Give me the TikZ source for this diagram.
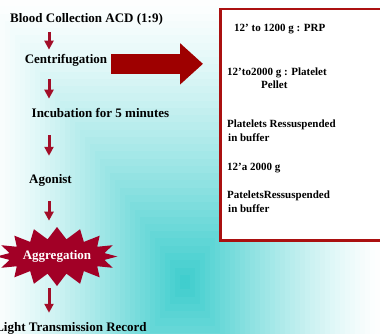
\documentclass[tikz,border=0pt]{standalone}
\usepackage{fontspec}
\setmainfont{Liberation Serif}
\usetikzlibrary{arrows.meta,shapes.symbols}
\definecolor{bgteal}{RGB}{58,204,204}
\definecolor{arrowred}{RGB}{162,14,40}
\definecolor{bigred}{RGB}{158,0,0}
\definecolor{burstred}{RGB}{162,0,38}
\definecolor{panelred}{RGB}{170,16,16}
\begin{document}
\begin{tikzpicture}[x=1pt,y=-1pt,
  step text/.style={inner sep=0pt,font=\fontsize{13}{15}\selectfont\bfseries,anchor=base},
  panel text/.style={inner sep=0pt,font=\fontsize{11}{13}\selectfont\bfseries,anchor=base west},
  down arrow/.style={draw=arrowred,line width=3pt,-{Triangle[width=9pt,length=9pt]}},
  big arrow/.style={draw=bigred,line width=20pt,-{Triangle[width=40pt,length=23pt]}},
  panel/.style={draw=panelred,line width=2.5pt,fill=white,inner sep=0pt,anchor=north west},
  agg burst/.style={starburst,starburst points=16,starburst point height=12pt,random starburst=0,
    fill=burstred,inner sep=0pt,minimum width=110pt,minimum height=59pt,text=white,
    font=\fontsize{13}{15}\selectfont\bfseries}]
\useasboundingbox (0,0) rectangle (380,334);
\clip (0,0) rectangle (380,334);
\fill[white] (0,0) rectangle (380,334);
\foreach \k in {1,...,40}{
  \pgfmathsetmacro\s{1-\k/40}
  \pgfmathsetmacro\p{100*(\k/40)^1.3}
  \fill[bgteal!\p!white] ({185-200*\s},{282-290*\s}) rectangle ({185+200*\s},{282+290*\s});
}
\coordinate (spine) at (49,0);
\node[step text] (blood) at (86.5,23) {Blood Collection ACD (1:9)};
\node[step text] (centri) at (66,64) {Centrifugation};
\node[step text] (incub) at (100.5,118) {Incubation for 5 minutes};
\node[step text] (agonist) at (50.5,183) {Agonist};
\node[agg burst] (aggreg) at (57,256.5) {Aggregation};
\node[step text] (light) at (71,331) {Light Transmission Record};
\node[panel,minimum width=190pt,minimum height=231pt] (panel) at (219,8) {};
\node[panel text] (prp) at (234,32) {12’ to 1200 g : PRP};
\node[panel text] (pellet) at (227,76) {12’to2000 g : Platelet};
\node[panel text] (pellet2) at (261,89) {Pellet};
\node[panel text] (resus) at (227,128) {Platelets Ressuspended};
\node[panel text] (resus2) at (228,142) {in buffer};
\node[panel text] (spin) at (227,170) {12’a 2000 g};
\node[panel text] (resusb) at (227,198) {PateletsRessuspended};
\node[panel text] (resusb2) at (228,212) {in buffer};
\draw[down arrow,shorten <=6pt,shorten >=5pt] (blood.south -| spine) -- (centri.north -| spine);
\draw[down arrow,shorten <=12pt,shorten >=10pt] (centri.south -| spine) -- (incub.north -| spine);
\draw[down arrow,shorten <=17pt,shorten >=18pt] (incub.south -| spine) -- (agonist.north -| spine);
\draw[down arrow,shorten <=15pt,shorten >=6pt] (agonist.south -| spine) -- (aggreg.north -| spine);
\draw[down arrow,shorten <=2pt,shorten >=9pt] (aggreg.south -| spine) -- (light.north -| spine);
\draw[big arrow,shorten <=4pt,shorten >=16pt] ([yshift=-3pt]centri.east) -- ([yshift=-3pt]centri.east -| panel.west);
\end{tikzpicture}
\end{document}
